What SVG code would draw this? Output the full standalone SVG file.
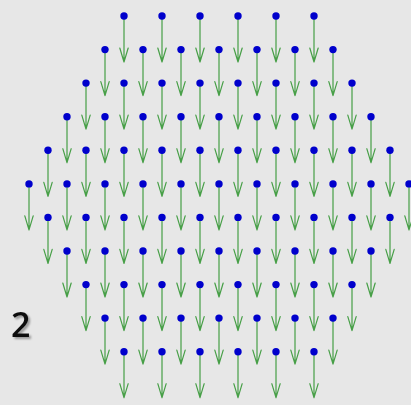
<svg xmlns="http://www.w3.org/2000/svg" xmlns:xlink="http://www.w3.org/1999/xlink" width="411" height="405" viewBox="0 0 411 405">
<style>
.bg{fill:#e7e7e7}
.dot{fill:#0000cc}
.arr{fill:none;stroke:#479f47;stroke-width:1.2;stroke-linecap:round;stroke-linejoin:round}
.lbl{font-family:"Open Sans","Liberation Sans",sans-serif;font-size:34px;font-weight:600;fill:#111}
</style>
<defs>
<path id="a" class="arr" d="M0 0V46M-4.2 32L0 46L4.2 32"/>
<filter id="sh" x="-30%" y="-30%" width="160%" height="160%"><feDropShadow dx="2" dy="2" stdDeviation="1.3" flood-color="#000" flood-opacity="0.35"/></filter>
</defs>
<rect class="bg" width="411" height="405"/>
<g id="connectors">
<use href="#a" x="124" y="16"/><use href="#a" x="162" y="16"/><use href="#a" x="200" y="16"/><use href="#a" x="238" y="16"/><use href="#a" x="276" y="16"/><use href="#a" x="314" y="16"/>
<use href="#a" x="105" y="49.6"/><use href="#a" x="143" y="49.6"/><use href="#a" x="181" y="49.6"/><use href="#a" x="219" y="49.6"/><use href="#a" x="257" y="49.6"/><use href="#a" x="295" y="49.6"/><use href="#a" x="333" y="49.6"/>
<use href="#a" x="86" y="83.1"/><use href="#a" x="124" y="83.1"/><use href="#a" x="162" y="83.1"/><use href="#a" x="200" y="83.1"/><use href="#a" x="238" y="83.1"/><use href="#a" x="276" y="83.1"/><use href="#a" x="314" y="83.1"/><use href="#a" x="352" y="83.1"/>
<use href="#a" x="67" y="116.7"/><use href="#a" x="105" y="116.7"/><use href="#a" x="143" y="116.7"/><use href="#a" x="181" y="116.7"/><use href="#a" x="219" y="116.7"/><use href="#a" x="257" y="116.7"/><use href="#a" x="295" y="116.7"/><use href="#a" x="333" y="116.7"/><use href="#a" x="371" y="116.7"/>
<use href="#a" x="48" y="150.3"/><use href="#a" x="86" y="150.3"/><use href="#a" x="124" y="150.3"/><use href="#a" x="162" y="150.3"/><use href="#a" x="200" y="150.3"/><use href="#a" x="238" y="150.3"/><use href="#a" x="276" y="150.3"/><use href="#a" x="314" y="150.3"/><use href="#a" x="352" y="150.3"/><use href="#a" x="390" y="150.3"/>
<use href="#a" x="29" y="183.9"/><use href="#a" x="67" y="183.9"/><use href="#a" x="105" y="183.9"/><use href="#a" x="143" y="183.9"/><use href="#a" x="181" y="183.9"/><use href="#a" x="219" y="183.9"/><use href="#a" x="257" y="183.9"/><use href="#a" x="295" y="183.9"/><use href="#a" x="333" y="183.9"/><use href="#a" x="371" y="183.9"/><use href="#a" x="409" y="183.9"/>
<use href="#a" x="48" y="217.4"/><use href="#a" x="86" y="217.4"/><use href="#a" x="124" y="217.4"/><use href="#a" x="162" y="217.4"/><use href="#a" x="200" y="217.4"/><use href="#a" x="238" y="217.4"/><use href="#a" x="276" y="217.4"/><use href="#a" x="314" y="217.4"/><use href="#a" x="352" y="217.4"/><use href="#a" x="390" y="217.4"/>
<use href="#a" x="67" y="251"/><use href="#a" x="105" y="251"/><use href="#a" x="143" y="251"/><use href="#a" x="181" y="251"/><use href="#a" x="219" y="251"/><use href="#a" x="257" y="251"/><use href="#a" x="295" y="251"/><use href="#a" x="333" y="251"/><use href="#a" x="371" y="251"/>
<use href="#a" x="86" y="284.6"/><use href="#a" x="124" y="284.6"/><use href="#a" x="162" y="284.6"/><use href="#a" x="200" y="284.6"/><use href="#a" x="238" y="284.6"/><use href="#a" x="276" y="284.6"/><use href="#a" x="314" y="284.6"/><use href="#a" x="352" y="284.6"/>
<use href="#a" x="105" y="318.1"/><use href="#a" x="143" y="318.1"/><use href="#a" x="181" y="318.1"/><use href="#a" x="219" y="318.1"/><use href="#a" x="257" y="318.1"/><use href="#a" x="295" y="318.1"/><use href="#a" x="333" y="318.1"/>
<use href="#a" x="124" y="351.7"/><use href="#a" x="162" y="351.7"/><use href="#a" x="200" y="351.7"/><use href="#a" x="238" y="351.7"/><use href="#a" x="276" y="351.7"/><use href="#a" x="314" y="351.7"/>
</g>
<g id="nodes">
<g id="n0_0"><circle class="dot" cx="124" cy="16" r="3.7"/></g><g id="n0_1"><circle class="dot" cx="162" cy="16" r="3.7"/></g><g id="n0_2"><circle class="dot" cx="200" cy="16" r="3.7"/></g><g id="n0_3"><circle class="dot" cx="238" cy="16" r="3.7"/></g><g id="n0_4"><circle class="dot" cx="276" cy="16" r="3.7"/></g><g id="n0_5"><circle class="dot" cx="314" cy="16" r="3.7"/></g>
<g id="n1_0"><circle class="dot" cx="105" cy="49.6" r="3.7"/></g><g id="n1_1"><circle class="dot" cx="143" cy="49.6" r="3.7"/></g><g id="n1_2"><circle class="dot" cx="181" cy="49.6" r="3.7"/></g><g id="n1_3"><circle class="dot" cx="219" cy="49.6" r="3.7"/></g><g id="n1_4"><circle class="dot" cx="257" cy="49.6" r="3.7"/></g><g id="n1_5"><circle class="dot" cx="295" cy="49.6" r="3.7"/></g><g id="n1_6"><circle class="dot" cx="333" cy="49.6" r="3.7"/></g>
<g id="n2_0"><circle class="dot" cx="86" cy="83.1" r="3.7"/></g><g id="n2_1"><circle class="dot" cx="124" cy="83.1" r="3.7"/></g><g id="n2_2"><circle class="dot" cx="162" cy="83.1" r="3.7"/></g><g id="n2_3"><circle class="dot" cx="200" cy="83.1" r="3.7"/></g><g id="n2_4"><circle class="dot" cx="238" cy="83.1" r="3.7"/></g><g id="n2_5"><circle class="dot" cx="276" cy="83.1" r="3.7"/></g><g id="n2_6"><circle class="dot" cx="314" cy="83.1" r="3.7"/></g><g id="n2_7"><circle class="dot" cx="352" cy="83.1" r="3.7"/></g>
<g id="n3_0"><circle class="dot" cx="67" cy="116.7" r="3.7"/></g><g id="n3_1"><circle class="dot" cx="105" cy="116.7" r="3.7"/></g><g id="n3_2"><circle class="dot" cx="143" cy="116.7" r="3.7"/></g><g id="n3_3"><circle class="dot" cx="181" cy="116.7" r="3.7"/></g><g id="n3_4"><circle class="dot" cx="219" cy="116.7" r="3.7"/></g><g id="n3_5"><circle class="dot" cx="257" cy="116.7" r="3.7"/></g><g id="n3_6"><circle class="dot" cx="295" cy="116.7" r="3.7"/></g><g id="n3_7"><circle class="dot" cx="333" cy="116.7" r="3.7"/></g><g id="n3_8"><circle class="dot" cx="371" cy="116.7" r="3.7"/></g>
<g id="n4_0"><circle class="dot" cx="48" cy="150.3" r="3.7"/></g><g id="n4_1"><circle class="dot" cx="86" cy="150.3" r="3.7"/></g><g id="n4_2"><circle class="dot" cx="124" cy="150.3" r="3.7"/></g><g id="n4_3"><circle class="dot" cx="162" cy="150.3" r="3.7"/></g><g id="n4_4"><circle class="dot" cx="200" cy="150.3" r="3.7"/></g><g id="n4_5"><circle class="dot" cx="238" cy="150.3" r="3.7"/></g><g id="n4_6"><circle class="dot" cx="276" cy="150.3" r="3.7"/></g><g id="n4_7"><circle class="dot" cx="314" cy="150.3" r="3.7"/></g><g id="n4_8"><circle class="dot" cx="352" cy="150.3" r="3.7"/></g><g id="n4_9"><circle class="dot" cx="390" cy="150.3" r="3.7"/></g>
<g id="n5_0"><circle class="dot" cx="29" cy="183.9" r="3.7"/></g><g id="n5_1"><circle class="dot" cx="67" cy="183.9" r="3.7"/></g><g id="n5_2"><circle class="dot" cx="105" cy="183.9" r="3.7"/></g><g id="n5_3"><circle class="dot" cx="143" cy="183.9" r="3.7"/></g><g id="n5_4"><circle class="dot" cx="181" cy="183.9" r="3.7"/></g><g id="n5_5"><circle class="dot" cx="219" cy="183.9" r="3.7"/></g><g id="n5_6"><circle class="dot" cx="257" cy="183.9" r="3.7"/></g><g id="n5_7"><circle class="dot" cx="295" cy="183.9" r="3.7"/></g><g id="n5_8"><circle class="dot" cx="333" cy="183.9" r="3.7"/></g><g id="n5_9"><circle class="dot" cx="371" cy="183.9" r="3.7"/></g><g id="n5_10"><circle class="dot" cx="409" cy="183.9" r="3.7"/></g>
<g id="n6_0"><circle class="dot" cx="48" cy="217.4" r="3.7"/></g><g id="n6_1"><circle class="dot" cx="86" cy="217.4" r="3.7"/></g><g id="n6_2"><circle class="dot" cx="124" cy="217.4" r="3.7"/></g><g id="n6_3"><circle class="dot" cx="162" cy="217.4" r="3.7"/></g><g id="n6_4"><circle class="dot" cx="200" cy="217.4" r="3.7"/></g><g id="n6_5"><circle class="dot" cx="238" cy="217.4" r="3.7"/></g><g id="n6_6"><circle class="dot" cx="276" cy="217.4" r="3.7"/></g><g id="n6_7"><circle class="dot" cx="314" cy="217.4" r="3.7"/></g><g id="n6_8"><circle class="dot" cx="352" cy="217.4" r="3.7"/></g><g id="n6_9"><circle class="dot" cx="390" cy="217.4" r="3.7"/></g>
<g id="n7_0"><circle class="dot" cx="67" cy="251" r="3.7"/></g><g id="n7_1"><circle class="dot" cx="105" cy="251" r="3.7"/></g><g id="n7_2"><circle class="dot" cx="143" cy="251" r="3.7"/></g><g id="n7_3"><circle class="dot" cx="181" cy="251" r="3.7"/></g><g id="n7_4"><circle class="dot" cx="219" cy="251" r="3.7"/></g><g id="n7_5"><circle class="dot" cx="257" cy="251" r="3.7"/></g><g id="n7_6"><circle class="dot" cx="295" cy="251" r="3.7"/></g><g id="n7_7"><circle class="dot" cx="333" cy="251" r="3.7"/></g><g id="n7_8"><circle class="dot" cx="371" cy="251" r="3.7"/></g>
<g id="n8_0"><circle class="dot" cx="86" cy="284.6" r="3.7"/></g><g id="n8_1"><circle class="dot" cx="124" cy="284.6" r="3.7"/></g><g id="n8_2"><circle class="dot" cx="162" cy="284.6" r="3.7"/></g><g id="n8_3"><circle class="dot" cx="200" cy="284.6" r="3.7"/></g><g id="n8_4"><circle class="dot" cx="238" cy="284.6" r="3.7"/></g><g id="n8_5"><circle class="dot" cx="276" cy="284.6" r="3.7"/></g><g id="n8_6"><circle class="dot" cx="314" cy="284.6" r="3.7"/></g><g id="n8_7"><circle class="dot" cx="352" cy="284.6" r="3.7"/></g>
<g id="n9_0"><circle class="dot" cx="105" cy="318.1" r="3.7"/></g><g id="n9_1"><circle class="dot" cx="143" cy="318.1" r="3.7"/></g><g id="n9_2"><circle class="dot" cx="181" cy="318.1" r="3.7"/></g><g id="n9_3"><circle class="dot" cx="219" cy="318.1" r="3.7"/></g><g id="n9_4"><circle class="dot" cx="257" cy="318.1" r="3.7"/></g><g id="n9_5"><circle class="dot" cx="295" cy="318.1" r="3.7"/></g><g id="n9_6"><circle class="dot" cx="333" cy="318.1" r="3.7"/></g>
<g id="n10_0"><circle class="dot" cx="124" cy="351.7" r="3.7"/></g><g id="n10_1"><circle class="dot" cx="162" cy="351.7" r="3.7"/></g><g id="n10_2"><circle class="dot" cx="200" cy="351.7" r="3.7"/></g><g id="n10_3"><circle class="dot" cx="238" cy="351.7" r="3.7"/></g><g id="n10_4"><circle class="dot" cx="276" cy="351.7" r="3.7"/></g><g id="n10_5"><circle class="dot" cx="314" cy="351.7" r="3.7"/></g>
</g>
<g id="label"><text class="lbl" x="11" y="336.5" filter="url(#sh)">2</text></g>
</svg>
